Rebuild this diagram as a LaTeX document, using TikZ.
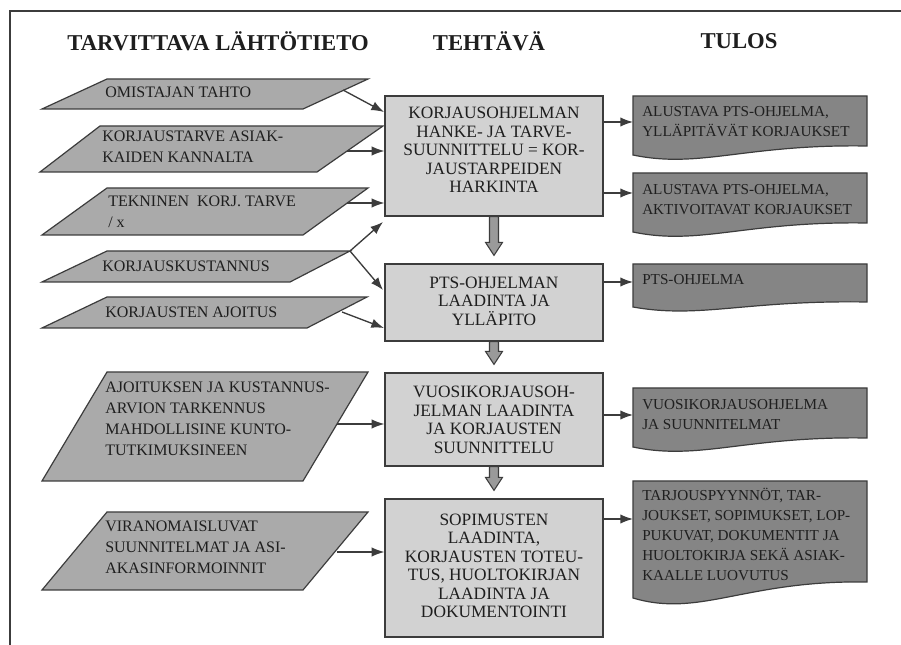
\documentclass[tikz,border=0pt]{standalone}
\usepackage{fontspec}
\setmainfont{Liberation Serif}
\usetikzlibrary{arrows.meta,calc}
\definecolor{inkc}{HTML}{1E1E1E}
\definecolor{edgec}{HTML}{3C3C3C}
\definecolor{parafill}{HTML}{AAAAAA}
\definecolor{taskfill}{HTML}{D2D2D2}
\definecolor{docfill}{HTML}{858585}
\definecolor{fatfill}{HTML}{9A9A9A}
% input parallelogram: bottom-left, top-left, top-right, bottom-right x, then top and bottom y
\newcommand{\inputpara}[6]{\path[inputshape] (#1,#6) -- (#2,#5) -- (#3,#5) -- (#4,#6) -- cycle;}
% result document with wavy lower edge: top, right bottom, left bottom, control depth
\newcommand{\resultdoc}[4]{\path[docshape] (633,#1) -- (867,#1) -- (867,#2) .. controls (745,#2-2) and (700,#3+#4) .. (633,#3) -- cycle;}
% broad grey arrow between two task boxes
\newcommand{\fatdown}[2]{\path[fat] ($(#1.south)+(-4.5,0)$) -- ($(#2.north)+(-4.5,-21)$) -- ($(#2.north)+(-8.5,-21)$) -- ($(#2.north)+(0,-8)$) -- ($(#2.north)+(8.5,-21)$) -- ($(#2.north)+(4.5,-21)$) -- ($(#1.south)+(4.5,0)$) -- cycle;}
\begin{document}
\begin{tikzpicture}[x=0.75pt,y=-0.75pt,
  inputshape/.style={fill=parafill,draw=edgec,line width=0.9pt},
  taskbox/.style={draw=edgec,fill=taskfill,line width=0.9pt,inner sep=0pt},
  docshape/.style={fill=docfill,draw=edgec,line width=0.9pt},
  fat/.style={fill=fatfill,draw=edgec,line width=0.8pt},
  heading/.style={font=\bfseries\fontsize{17}{20}\selectfont,text=inkc,inner sep=0pt},
  intext/.style={font=\fontsize{12}{15.75}\selectfont,text=inkc,align=left,inner sep=0pt,anchor=west},
  tasktext/.style={font=\fontsize{13}{13.9}\selectfont,text=inkc,align=center,inner sep=0pt},
  outtext/.style={font=\fontsize{11.4}{15}\selectfont,text=black!88,align=left,inner sep=0pt,anchor=west},
  arr/.style={draw=edgec,line width=1pt,-{Latex[length=9.5pt,width=7pt]}}]
\useasboundingbox (0,0) rectangle (901,645);
\fill[white] (0,0) rectangle (901,645);
% frame
\draw[edgec,line width=0.8pt] (10,645) -- (10,11) -- (901,11);

% column headings
\node[heading] (h1) at (218,41) {TARVITTAVA LÄHTÖTIETO};
\node[heading] (h2) at (489,41) {TEHTÄVÄ};
\node[heading] (h3) at (739,41) {TULOS};

% input data
\inputpara{42}{107}{368}{303}{79}{109}
\inputpara{40}{100}{383}{317}{126}{172}
\inputpara{42}{107}{368}{303}{188}{235}
\inputpara{42}{107}{350}{290}{251}{282}
\inputpara{42}{107}{367}{307}{297}{328}
\inputpara{42}{107}{368}{303}{372}{481}
\inputpara{42}{107}{368}{303}{512}{590}
\node[intext] (in1) at (105,92.5) {OMISTAJAN TAHTO};
\node[intext] (in2) at (102,147) {KORJAUSTARVE ASIAK-\\KAIDEN KANNALTA};
\node[intext] (in3) at (108,212) {TEKNINEN\enspace KORJ. TARVE\\/ x};
\node[intext] (in4) at (102,266.5) {KORJAUSKUSTANNUS};
\node[intext] (in5) at (105,312.5) {KORJAUSTEN AJOITUS};
\node[intext] (in6) at (105,419) {AJOITUKSEN JA KUSTANNUS-\\ARVION TARKENNUS\\MAHDOLLISINE KUNTO-\\TUTKIMUKSINEEN};
\node[intext] (in7) at (105,547.5) {VIRANOMAISLUVAT\\SUUNNITELMAT JA ASI-\\AKASINFORMOINNIT};

% tasks
\node[taskbox,minimum width=163.5pt,minimum height=90pt] (A) at (494,156) {};
\node[taskbox,minimum width=163.5pt,minimum height=57.75pt] (B) at (494,302.5) {};
\node[taskbox,minimum width=163.5pt,minimum height=69.75pt] (C) at (494,419.5) {};
\node[taskbox,minimum width=163.5pt,minimum height=103.5pt] (D) at (494,568) {};
\node[tasktext] (ta) at (494,150) {KORJAUSOHJELMAN\\HANKE- JA TARVE-\\SUUNNITTELU = KOR-\\JAUSTARPEIDEN\\HARKINTA};
\node[tasktext] (tb) at (494,301) {PTS-OHJELMAN\\LAADINTA JA\\YLLÄPITO};
\node[tasktext] (tc) at (494,420) {VUOSIKORJAUSOH-\\JELMAN LAADINTA\\JA KORJAUSTEN\\SUUNNITTELU};
\node[tasktext] (td) at (494,566) {SOPIMUSTEN\\LAADINTA,\\KORJAUSTEN TOTEU-\\TUS, HUOLTOKIRJAN\\LAADINTA JA\\DOKUMENTOINTI};
\fatdown{A}{B}
\fatdown{B}{C}
\fatdown{C}{D}

% results
\resultdoc{96}{146}{155}{14}
\resultdoc{173}{223}{232}{14}
\resultdoc{264}{302}{307}{12}
\resultdoc{388}{438}{447}{14}
\resultdoc{481}{582}{598}{20}
\node[outtext] (r1) at (642,121.5) {ALUSTAVA PTS-OHJELMA,\\YLLÄPITÄVÄT KORJAUKSET};
\node[outtext] (r2) at (642,199.5) {ALUSTAVA PTS-OHJELMA,\\AKTIVOITAVAT KORJAUKSET};
\node[outtext] (r3) at (642,279.5) {PTS-OHJELMA};
\node[outtext] (r4) at (642,414.5) {VUOSIKORJAUSOHJELMA\\JA SUUNNITELMAT};
\node[outtext] (r5) at (642,534.5) {TARJOUSPYYNNÖT, TAR-\\JOUKSET, SOPIMUKSET, LOP-\\PUKUVAT, DOKUMENTIT JA\\HUOLTOKIRJA SEKÄ ASIAK-\\KAALLE LUOVUTUS};

% connectors from input data to tasks
\coordinate (s1) at (343,90);
\coordinate (e1) at (384,112);
\coordinate (s2) at (347,151);
\coordinate (s3) at (347,203);
\coordinate (s4) at (350,251);
\coordinate (e4a) at (383,222);
\coordinate (e4b) at (383,290);
\coordinate (s5) at (342,312);
\coordinate (e5) at (384,328);
\coordinate (s6) at (337,424);
\coordinate (s7) at (337,552);
\draw[arr] (s1) -- (e1);
\draw[arr] (s2) -- (s2 -| A.west);
\draw[arr] (s3) -- (s3 -| A.west);
\draw[arr] (s4) -- (e4a);
\draw[arr] (s4) -- (e4b);
\draw[arr] (s5) -- (e5);
\draw[arr] (s6) -- (s6 -| C.west);
\draw[arr] (s7) -- (s7 -| D.west);

% connectors from tasks to results
\coordinate (o1) at (633,122);
\coordinate (o2) at (633,193);
\coordinate (o3) at (633,282);
\coordinate (o4) at (633,415);
\coordinate (o5) at (633,519);
\draw[arr] (o1 -| A.east) -- (o1);
\draw[arr] (o2 -| A.east) -- (o2);
\draw[arr] (o3 -| B.east) -- (o3);
\draw[arr] (o4 -| C.east) -- (o4);
\draw[arr] (o5 -| D.east) -- (o5);
\end{tikzpicture}
\end{document}
